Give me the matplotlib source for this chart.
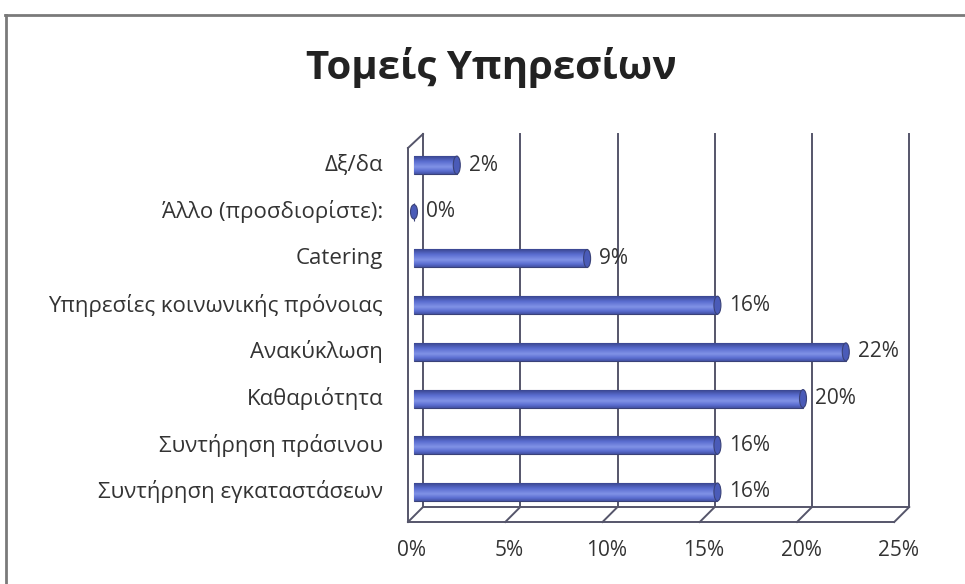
import numpy as np
import matplotlib
matplotlib.use("Agg")
import matplotlib.pyplot as plt
from matplotlib.patches import Ellipse
from matplotlib.lines import Line2D

# Data (share of 45 answers), bottom to top
categories = ["Συντήρηση εγκαταστάσεων", "Συντήρηση πράσινου", "Καθαριότητα",
              "Ανακύκλωση", "Υπηρεσίες κοινωνικής πρόνοιας", "Catering",
              "Άλλο (προσδιορίστε):", "Δξ/δα"]
values = [15.6, 15.6, 20.0, 22.2, 15.6, 8.9, 0.0, 2.2]
value_labels = ["16%", "16%", "20%", "22%", "16%", "9%", "0%", "2%"]
ticks = [0, 5, 10, 15, 20, 25]
tick_labels = ["0%", "5%", "10%", "15%", "20%", "25%"]
title = "Τομείς Υπηρεσίων"

W, H = 965, 584
fig = plt.figure(figsize=(W / 100, H / 100), dpi=100, facecolor="white")

# pixel scale of the plot
PX_X = 19.45   # px per percent
PX_Y = 46.7    # px per category
x0_px, y0_px = 414, 492
xlim = (-1, 26)
ylim = (-1.5, 8)
left = (x0_px + xlim[0] * PX_X) / W
width = (xlim[1] - xlim[0]) * PX_X / W
bottom = (H - (y0_px - ylim[0] * PX_Y)) / H
height = (ylim[1] - ylim[0]) * PX_Y / H
ax = fig.add_axes([left, bottom, width, height])
ax.set_xlim(*xlim)
ax.set_ylim(*ylim)
ax.axis("off")

def dx(px):
    return px / PX_X

def dy(px):
    return px / PX_Y

line_c = "#55556a"
lw = 1.4
back_x = dx(9)
front_x = dx(-6)
back_bot = dy(-15)
front_bot = dy(-30)
back_top = dy(358)
side_top = dy(344)

# back wall gridlines and floor
for t in ticks:
    ax.plot([t + back_x, t + back_x], [back_bot, back_top], color=line_c, lw=lw)
    ax.plot([t + back_x, t + front_x], [back_bot, front_bot], color=line_c, lw=lw)
ax.plot([back_x, ticks[-1] + back_x], [back_bot, back_bot], color=line_c, lw=lw)
ax.plot([front_x, ticks[-1] + front_x], [front_bot, front_bot], color=line_c, lw=lw)
# side wall
ax.plot([front_x, front_x], [front_bot, side_top], color=line_c, lw=lw)
ax.plot([front_x, back_x], [side_top, back_top], color=line_c, lw=lw)

# bars (cylinders)
bar_h = dy(18)
cap_w = dx(7)
grad = np.concatenate([np.linspace(0.15, 1, 40), np.linspace(1, 0.0, 60)])[:, None]
cmap = matplotlib.colors.LinearSegmentedColormap.from_list(
    "cyl", ["#3a4690", "#5a6dd0", "#8092e6"])
y_pos = np.arange(len(categories))
bars = ax.barh(y_pos, values, height=bar_h, color="#5a6dd0",
               edgecolor="#3a4278", linewidth=0.8, zorder=3)
for b, v in zip(bars, values):
    if v > 0:
        ax.imshow(grad[::-1], cmap=cmap, aspect="auto", zorder=3.5,
                  extent=[b.get_x(), b.get_x() + b.get_width(),
                          b.get_y(), b.get_y() + b.get_height()],
                  clip_path=b, clip_on=True)
    cap = Ellipse((v, b.get_y() + bar_h / 2), cap_w, bar_h * (1 if v > 0 else 0.8),
                  facecolor="#4a5bb8", edgecolor="#3a4278", lw=0.8, zorder=4)
    ax.add_patch(cap)
ax.set_xlim(*xlim)
ax.set_ylim(*ylim)

txt_c = "#333333"
font = ["Open Sans", "DejaVu Sans"]
for yi, v, lab in zip(y_pos, values, value_labels):
    ax.text(v + dx(12), yi, lab, ha="left", va="center", fontsize=15,
            color=txt_c, family=font, zorder=5)
for yi, cat in zip(y_pos, categories):
    ax.text(dx(383 - x0_px), yi, cat, ha="right", va="center", fontsize=16,
            color=txt_c, family=font, clip_on=False)
for t, lab in zip(ticks, tick_labels):
    ax.text(t + dx(-2), dy(-58), lab, ha="center", va="center", fontsize=15,
            color=txt_c, family=font, clip_on=False)

fig.text(491 / W, 1 - 68 / H, title, ha="center", va="center", fontsize=29,
         fontweight="bold", color="#222222", family=font)

# scanned page frame
fig.add_artist(Line2D([5 / W, 1], [1 - 15 / H, 1 - 15 / H], color="#7a7a7a", lw=2))
fig.add_artist(Line2D([6 / W, 6 / W], [0, 1 - 15 / H], color="#7a7a7a", lw=2))

fig.savefig("out.png", dpi=100, facecolor="white")
